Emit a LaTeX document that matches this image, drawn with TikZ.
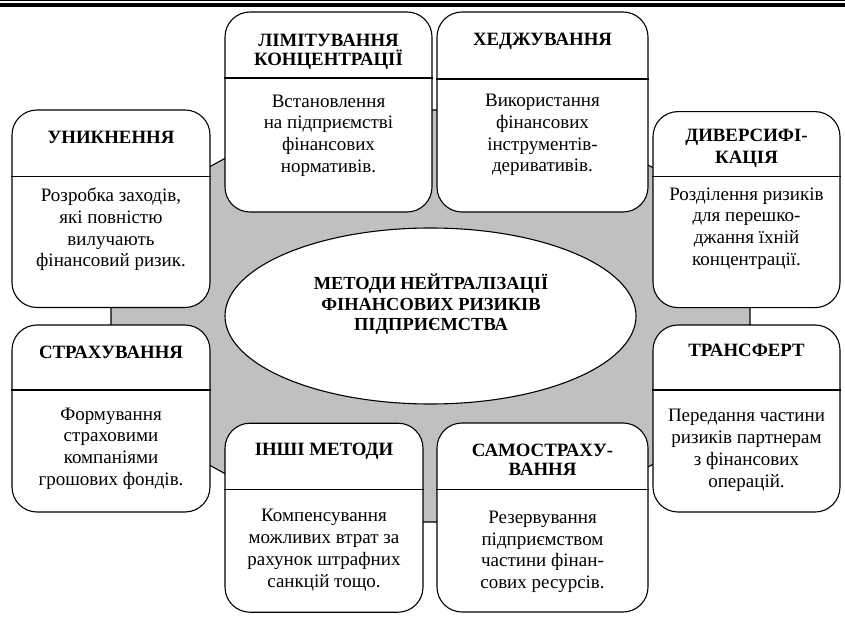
\documentclass[tikz,border=0pt]{standalone}
\usepackage{fontspec}
\setmainfont{Liberation Serif}
\usetikzlibrary{shapes.geometric}
\definecolor{octgray}{HTML}{C0C0C0}
\begin{document}
\begin{tikzpicture}[x=1pt,y=-1pt,
  mbox/.style={draw, fill=white, rectangle, rounded corners=25pt, inner sep=0pt, line width=1.1pt},
  ttl/.style={anchor=north, inner sep=0pt, align=center, font=\fontsize{18.8}{18.3}\selectfont\bfseries},
  ttlw/.style={ttl, font=\fontsize{18.8}{21.7}\selectfont\bfseries},
  bdy/.style={anchor=north, inner sep=0pt, align=center, font=\fontsize{19}{21.7}\selectfont},
  ctr/.style={anchor=north, inner sep=0pt, align=center, font=\fontsize{18.4}{20.7}\selectfont\bfseries},
  divl/.style={line width=1.1pt}]
\useasboundingbox (0,0) rectangle (845,617);
\fill[white] (0,0) rectangle (845,617);
% top rules
\draw[line width=1pt] (0,0.5) -- (845,0.5);
\fill[black] (0,3) rectangle (845,7.5);
% octagon background
\draw[fill=octgray, line width=1.1pt] (313,110) -- (548,110) -- (750,221) -- (750,411)
  -- (548,522) -- (313,522) -- (111,411) -- (111,221) -- cycle;
% central ellipse
\node[ellipse, draw, fill=white, line width=1.1pt, minimum width=411pt, minimum height=176pt, inner sep=0pt] (core) at (430.5,316) {};
\node[ctr] (coretxt) at (431,269.3) {\rule{0pt}{20pt}МЕТОДИ НЕЙТРАЛІЗАЦІЇ\\ФІНАНСОВИХ РИЗИКІВ\\ПІДПРИЄМСТВА};

% 1 УНИКНЕННЯ
\node[mbox, minimum width=198pt, minimum height=197.5pt] (b1) at (111,208.75) {};
\draw[divl] (b1.west |- 0,176.7) -- (b1.east |- 0,176.7);
\node[ttl] (t1) at (111,123.3) {\rule{0pt}{20pt}УНИКНЕННЯ};
\node[bdy] (d1) at (111,181.7) {\rule{0pt}{20pt}Розробка заходів,\\які повністю\\вилучають\\фінансовий ризик.};

% 2 ЛІМІТУВАННЯ
\node[mbox, minimum width=207pt, minimum height=200pt] (b2) at (328.5,112) {};
\draw[divl] (b2.west |- 0,78) -- (b2.east |- 0,78);
\node[ttl] (t2) at (328.5,26.7) {\rule{0pt}{20pt}ЛІМІТУВАННЯ\\КОНЦЕНТРАЦІЇ};
\node[bdy] (d2) at (328.5,87) {\rule{0pt}{20pt}Встановлення\\на підприємстві\\фінансових\\нормативів.};

% 3 ХЕДЖУВАННЯ
\node[mbox, minimum width=211pt, minimum height=200pt] (b3) at (542.5,112) {};
\draw[divl] (b3.west |- 0,79) -- (b3.east |- 0,79);
\node[ttl] (t3) at (542.5,25) {\rule{0pt}{20pt}ХЕДЖУВАННЯ};
\node[bdy] (d3) at (542.5,86.7) {\rule{0pt}{20pt}Використання\\фінансових\\інструментів-\\деривативів.};

% 4 ДИВЕРСИФІКАЦІЯ
\node[mbox, minimum width=187pt, minimum height=196pt] (b4) at (746.5,209.6) {};
\draw[divl] (b4.west |- 0,176.7) -- (b4.east |- 0,176.7);
\node[ttlw] (t4) at (746.5,121.7) {\rule{0pt}{20pt}ДИВЕРСИФІ-\\КАЦІЯ};
\node[bdy] (d4) at (746.5,180) {\rule{0pt}{20pt}Розділення ризиків\\для перешко-\\джання їхній\\концентрації.};

% 5 СТРАХУВАННЯ
\node[mbox, minimum width=198pt, minimum height=187pt] (b5) at (111,418.5) {};
\draw[divl] (b5.west |- 0,390) -- (b5.east |- 0,390);
\node[ttl] (t5) at (111,338.3) {\rule{0pt}{20pt}СТРАХУВАННЯ};
\node[bdy] (d5) at (111,400) {\rule{0pt}{20pt}Формування\\страховими\\компаніями\\грошових фондів.};

% 6 ТРАНСФЕРТ
\node[mbox, minimum width=187pt, minimum height=187pt] (b6) at (746.5,418.5) {};
\draw[divl] (b6.west |- 0,390) -- (b6.east |- 0,390);
\node[ttl] (t6) at (746.5,336.7) {\rule{0pt}{20pt}ТРАНСФЕРТ};
\node[bdy] (d6) at (746.5,401.7) {\rule{0pt}{20pt}Передання частини\\ризиків партнерам\\з фінансових\\операцій.};

% 7 ІНШІ МЕТОДИ
\node[mbox, minimum width=198pt, minimum height=189pt] (b7) at (324,517.7) {};
\draw[divl] (b7.west |- 0,489.3) -- (b7.east |- 0,489.3);
\node[ttl] (t7) at (324,435) {\rule{0pt}{20pt}ІНШІ МЕТОДИ};
\node[bdy] (d7) at (324,501.7) {\rule{0pt}{20pt}Компенсування\\можливих втрат за\\рахунок штрафних\\санкцій тощо.};

% 8 САМОСТРАХУВАННЯ
\node[mbox, minimum width=211pt, minimum height=189pt] (b8) at (542.5,517.5) {};
\draw[divl] (b8.west |- 0,489.3) -- (b8.east |- 0,489.3);
\node[ttl] (t8) at (542.5,436.7) {\rule{0pt}{20pt}САМОСТРАХУ-\\ВАННЯ};
\node[bdy] (d8) at (542.5,503.3) {\rule{0pt}{20pt}Резервування\\підприємством\\частини фінан-\\сових ресурсів.};
\end{tikzpicture}
\end{document}
